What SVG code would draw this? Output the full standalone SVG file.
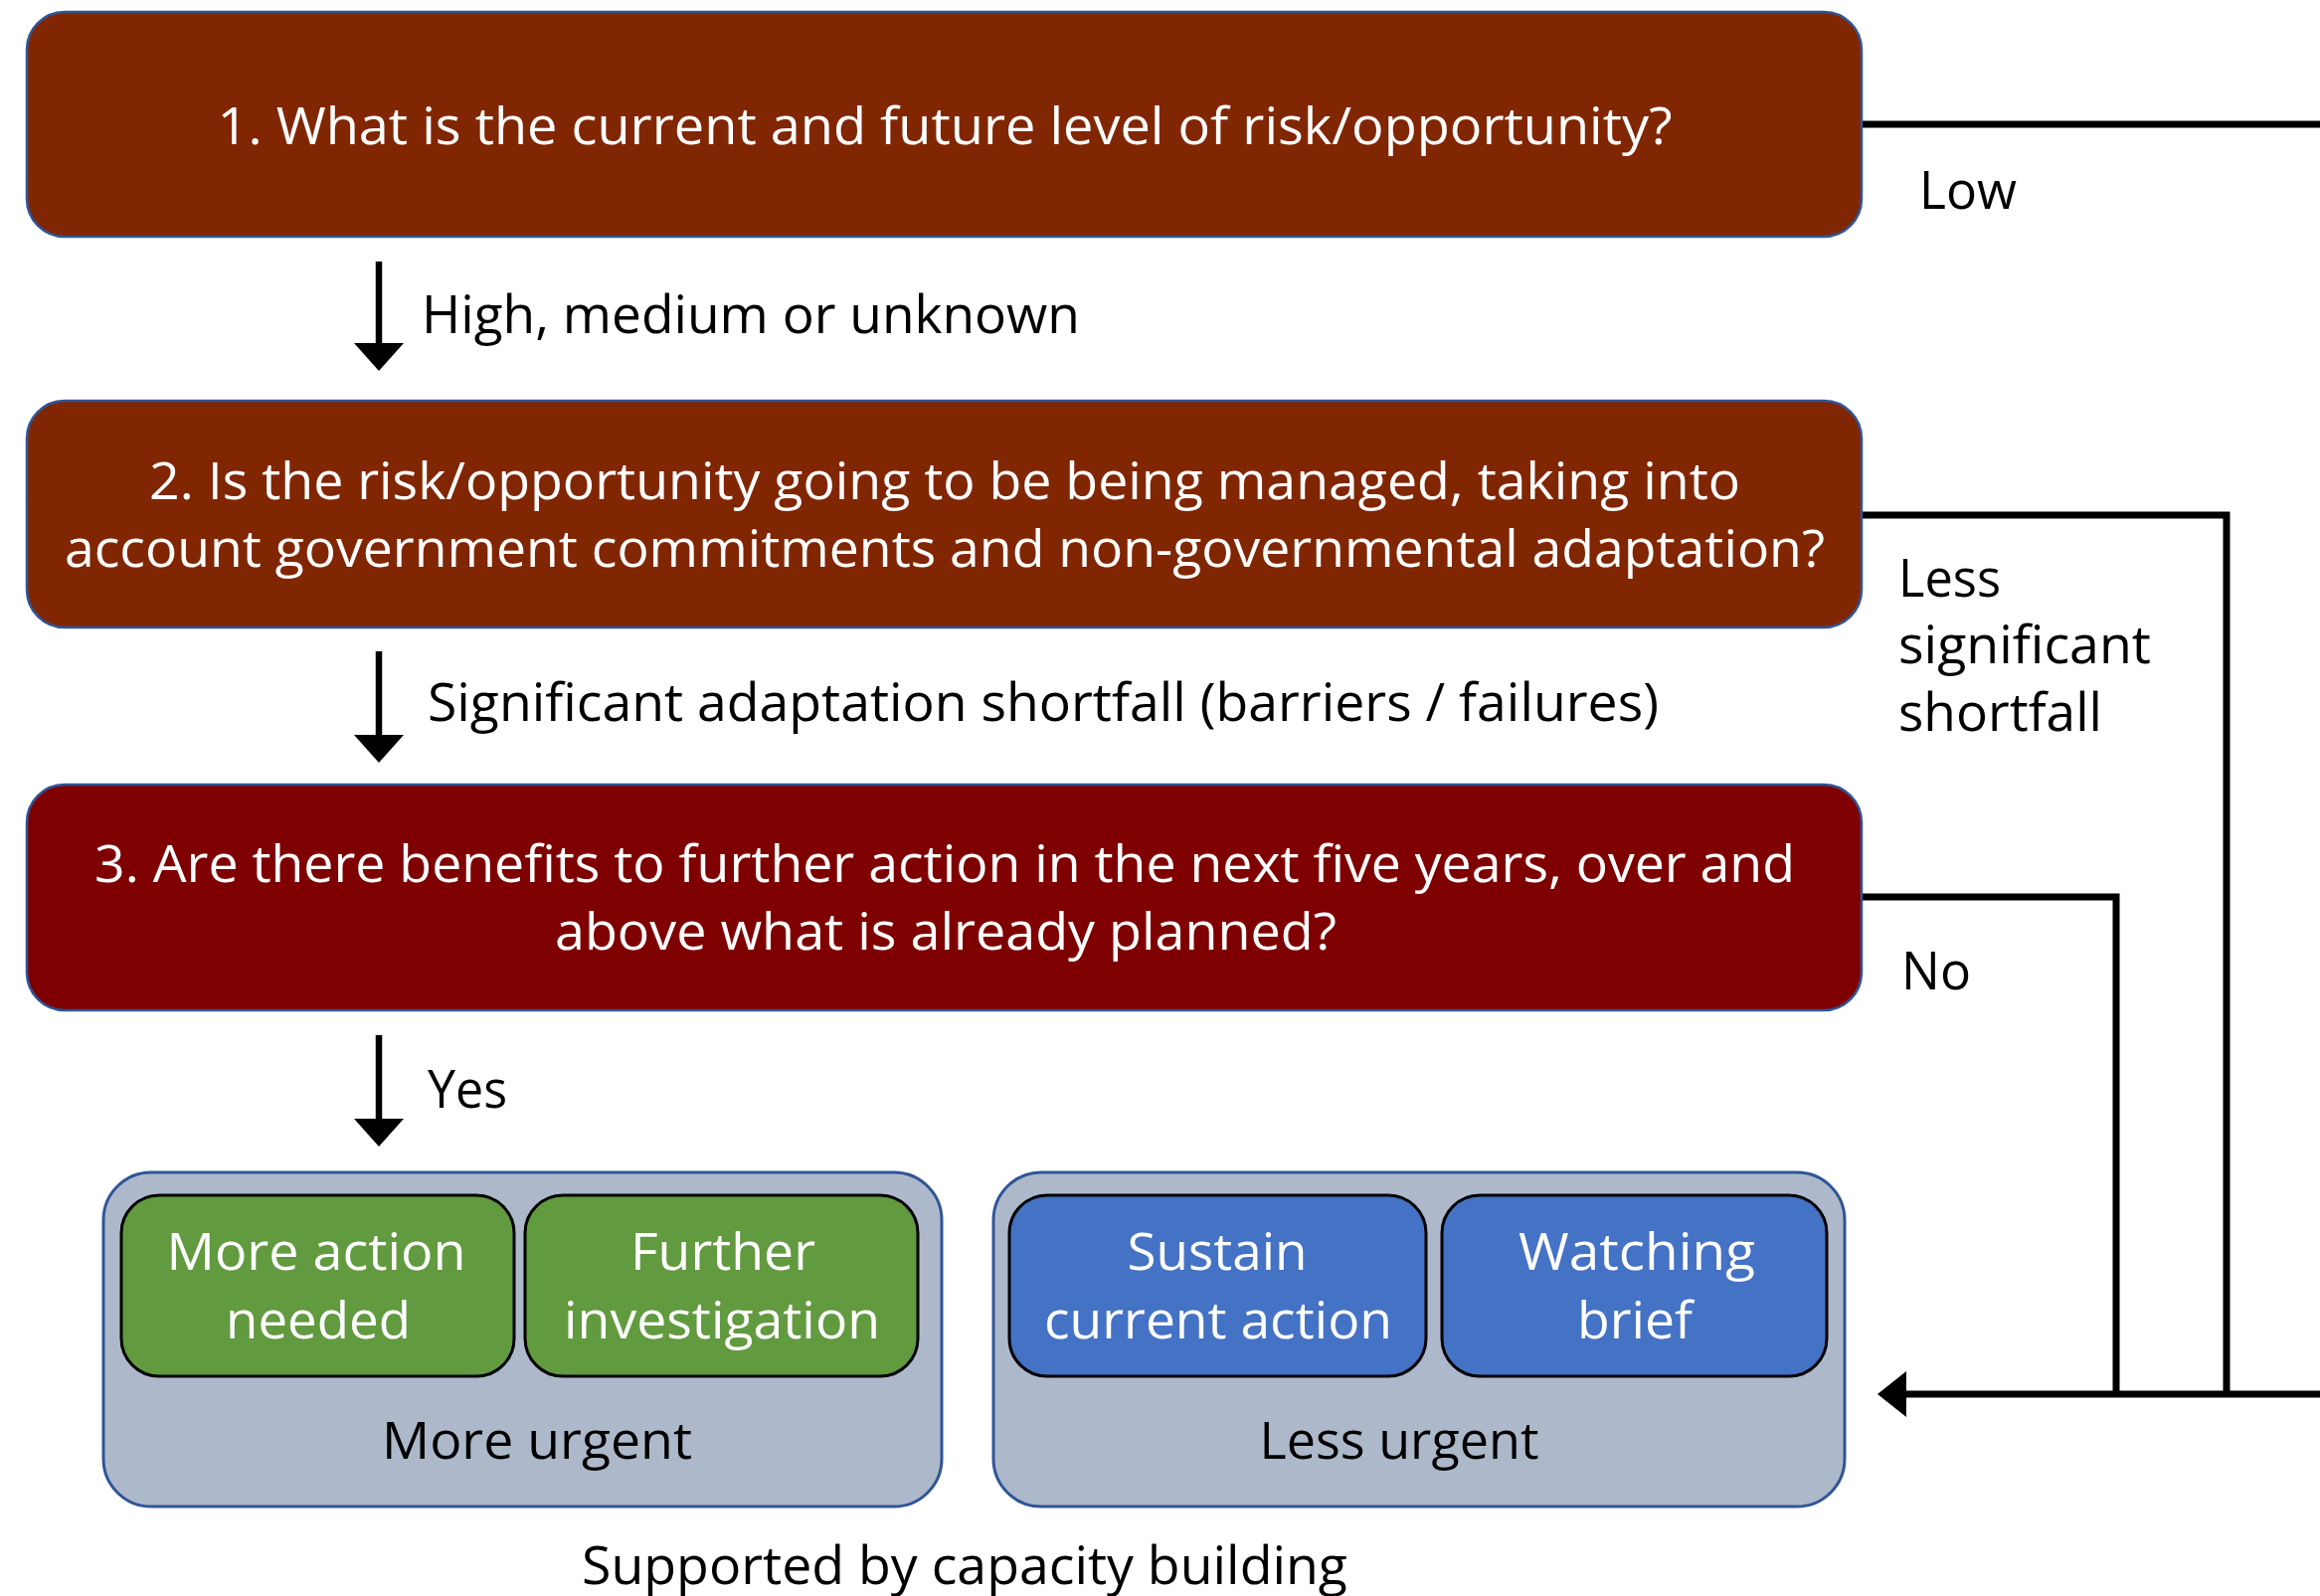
<svg xmlns="http://www.w3.org/2000/svg" width="2333" height="1605" viewBox="0 0 2333 1605">
  <style>
    .q { stroke: #2F5597; stroke-width: 2.5; }
    .q1 { fill: #812603; }
    .q3 { fill: #7F0000; }
    .grp { fill: #ADB9CA; stroke: #2F5597; stroke-width: 3; }
    .green { fill: #629A3F; stroke: #000; stroke-width: 3; }
    .blue { fill: #4472C4; stroke: #000; stroke-width: 3; }
    text { font-family: "Open Sans", "Lato", "Liberation Sans", sans-serif; font-size: 51px; }
    .w { fill: #fff; text-anchor: middle; }
    .k { fill: #000; }
    .kc { fill: #000; text-anchor: middle; }
    .lbl { font-size: 53px; }
    .line { fill: none; stroke: #000; stroke-width: 7; stroke-linejoin: miter; }
    .shaft { stroke: #000; stroke-width: 6.5; }
    .head { fill: #000; }
  </style>
  <defs>
    <path id="down-head" d="M -25 0 L 25 0 L 0 28 Z"/>
  </defs>

  <rect width="2333" height="1605" fill="#fff"/>

  <!-- connectors -->
  <g id="connectors">
    <!-- downward arrows between the questions -->
    <line class="shaft" x1="381" y1="263" x2="381" y2="348"/>
    <use href="#down-head" class="head" x="381" y="345"/>
    <line class="shaft" x1="381" y1="655" x2="381" y2="742"/>
    <use href="#down-head" class="head" x="381" y="739"/>
    <line class="shaft" x1="381" y1="1041" x2="381" y2="1128"/>
    <use href="#down-head" class="head" x="381" y="1125"/>

    <!-- return paths on the right -->
    <polyline class="line" points="1872,125 2333,125"/>
    <polyline class="line" points="1872,518 2239,518 2239,1402"/>
    <polyline class="line" points="1872,902 2128,902 2128,1402"/>
    <polyline class="line" points="2333,1402 1914,1402"/>
    <path class="head" d="M 1888 1402 L 1917 1379 L 1917 1425 Z"/>

    <!-- branch labels -->
    <text class="k lbl" x="424" y="335" textLength="662" lengthAdjust="spacingAndGlyphs">High, medium or unknown</text>
    <text class="k lbl" x="430" y="725" textLength="1238" lengthAdjust="spacingAndGlyphs">Significant adaptation shortfall (barriers / failures)</text>
    <text class="k lbl" x="430" y="1114" textLength="80" lengthAdjust="spacingAndGlyphs">Yes</text>
    <text class="k lbl" x="1930" y="210" textLength="98" lengthAdjust="spacingAndGlyphs">Low</text>
    <text class="k lbl" x="1909" y="600" textLength="103" lengthAdjust="spacingAndGlyphs">Less</text>
    <text class="k lbl" x="1909" y="667" textLength="254" lengthAdjust="spacingAndGlyphs">significant</text>
    <text class="k lbl" x="1909" y="735" textLength="205" lengthAdjust="spacingAndGlyphs">shortfall</text>
    <text class="k lbl" x="1912" y="995" textLength="70" lengthAdjust="spacingAndGlyphs">No</text>
  </g>

  <!-- question 1 -->
  <g id="q1">
    <rect class="q q1" x="27" y="12" width="1845" height="226" rx="38"/>
    <text class="w" x="950" y="145" textLength="1463" lengthAdjust="spacingAndGlyphs">1. What is the current and future level of risk/opportunity?</text>
  </g>

  <!-- question 2 -->
  <g id="q2">
    <rect class="q q1" x="27" y="403" width="1845" height="228" rx="38"/>
    <text class="w" x="950" y="502" textLength="1600" lengthAdjust="spacingAndGlyphs">2. Is the risk/opportunity going to be being managed, taking into</text>
    <text class="w" x="950" y="570" textLength="1770" lengthAdjust="spacingAndGlyphs">account government commitments and non-governmental adaptation?</text>
  </g>

  <!-- question 3 -->
  <g id="q3">
    <rect class="q q3" x="27" y="789" width="1845" height="227" rx="38"/>
    <text class="w" x="950" y="887" textLength="1710" lengthAdjust="spacingAndGlyphs">3. Are there benefits to further action in the next five years, over and</text>
    <text class="w" x="951" y="955" textLength="786" lengthAdjust="spacingAndGlyphs">above what is already planned?</text>
  </g>

  <!-- more urgent outcomes -->
  <g id="more-urgent">
    <rect class="grp" x="104" y="1179" width="843" height="336" rx="48"/>
    <text class="kc" x="540" y="1467" textLength="312" lengthAdjust="spacingAndGlyphs">More urgent</text>
  </g>
  <g id="more-action">
    <rect class="green" x="122" y="1202" width="395" height="182" rx="38"/>
    <text class="w" x="318" y="1277" textLength="301" lengthAdjust="spacingAndGlyphs">More action</text>
    <text class="w" x="320" y="1346" textLength="186" lengthAdjust="spacingAndGlyphs">needed</text>
  </g>
  <g id="further-investigation">
    <rect class="green" x="528" y="1202" width="395" height="182" rx="38"/>
    <text class="w" x="727" y="1277" textLength="186" lengthAdjust="spacingAndGlyphs">Further</text>
    <text class="w" x="726" y="1346" textLength="318" lengthAdjust="spacingAndGlyphs">investigation</text>
  </g>

  <!-- less urgent outcomes -->
  <g id="less-urgent">
    <rect class="grp" x="999" y="1179" width="856" height="336" rx="48"/>
    <text class="kc" x="1407" y="1467" textLength="281" lengthAdjust="spacingAndGlyphs">Less urgent</text>
  </g>
  <g id="sustain">
    <rect class="blue" x="1015" y="1202" width="419" height="182" rx="38"/>
    <text class="w" x="1224" y="1277" textLength="181" lengthAdjust="spacingAndGlyphs">Sustain</text>
    <text class="w" x="1225" y="1346" textLength="350" lengthAdjust="spacingAndGlyphs">current action</text>
  </g>
  <g id="watching-brief">
    <rect class="blue" x="1450" y="1202" width="387" height="182" rx="38"/>
    <text class="w" x="1646" y="1277" textLength="238" lengthAdjust="spacingAndGlyphs">Watching</text>
    <text class="w" x="1644" y="1346" textLength="116" lengthAdjust="spacingAndGlyphs">brief</text>
  </g>

  <!-- footnote -->
  <g id="footnote">
    <text class="kc lbl" x="970" y="1593" textLength="770" lengthAdjust="spacingAndGlyphs">Supported by capacity building</text>
  </g>
</svg>
